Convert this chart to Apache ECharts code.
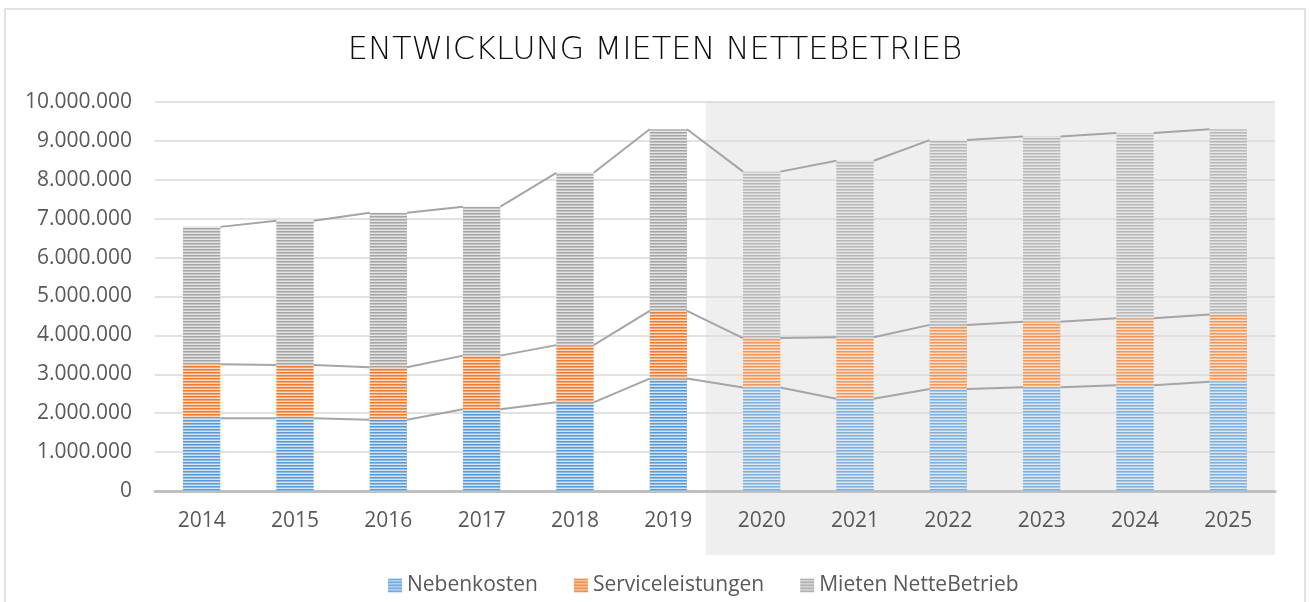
<!DOCTYPE html>
<html>
<head>
<meta charset="utf-8">
<script src="https://cdn.jsdelivr.net/npm/echarts@6/dist/echarts.min.js"></script>
<style>
  html, body { margin: 0; padding: 0; background: #fff; }
  #chart { width: 1310px; height: 602px; }
</style>
</head>
<body>
<div id="chart"></div>
<script>
// values
var years = ['2014', '2015', '2016', '2017', '2018', '2019', '2020', '2021', '2022', '2023', '2024', '2025'];
var nebenkosten = [1870000, 1870000, 1830000, 2100000, 2280000, 2890000, 2660000, 2370000, 2620000, 2670000, 2720000, 2810000];
var service = [1390000, 1370000, 1350000, 1380000, 1470000, 1740000, 1270000, 1580000, 1650000, 1680000, 1720000, 1730000];
var mieten = [3530000, 3710000, 3970000, 3830000, 4430000, 4670000, 4280000, 4540000, 4750000, 4760000, 4760000, 4760000];
var forecastFrom = 6; // 2020 onwards on grey background

var FONT = '"Open Sans", sans-serif';

// striped fill like the excel pattern
function stripes(dark, mid, light) {
  var c = document.createElement('canvas');
  c.width = 4; c.height = 3;
  var ctx = c.getContext('2d');
  ctx.fillStyle = dark; ctx.fillRect(0, 0, 4, 1);
  ctx.fillStyle = mid; ctx.fillRect(0, 1, 4, 1);
  ctx.fillStyle = light; ctx.fillRect(0, 2, 4, 1);
  return { image: c, repeat: 'repeat' };
}
var blueFill = stripes('#5b9bd5', '#8fbbe3', '#d3e4f4');
var orangeFill = stripes('#ed7d31', '#f3a671', '#fad9c2');
var greyFill = stripes('#a5a5a5', '#c2c2c2', '#e4e4e4');

function toItems(arr) {
  return arr.map(function (v, i) {
    return i >= forecastFrom ? { value: v, itemStyle: { opacity: 0.75 } } : v;
  });
}

// series lines between the stacked bars
var levels = [];
for (var i = 0; i < years.length; i++) {
  var b = nebenkosten[i], o = b + service[i];
  levels.push([b, o, o + mieten[i]]);
}
var connectors = [];
for (var j = 0; j < years.length - 1; j++) {
  connectors.push([j, j + 1].concat(levels[j], levels[j + 1]));
}

function fmt(v) {
  return String(v).replace(/\B(?=(\d{3})+(?!\d))/g, '.');
}

var chart = echarts.init(document.getElementById('chart'));

var option = {
  animation: false,
  textStyle: { fontFamily: FONT },
  title: {
    text: 'ENTWICKLUNG MIETEN NETTEBETRIEB',
    left: 'center',
    top: 30,
    textStyle: { fontFamily: '"DejaVu Sans", sans-serif', fontSize: 32, fontWeight: 200, color: '#0d0d0d' }
  },
  legend: {
    data: ['Nebenkosten', 'Serviceleistungen', 'Mieten NetteBetrieb'],
    left: 383,
    top: 570,
    itemWidth: 14,
    itemHeight: 14,
    itemGap: 36,
    icon: 'rect',
    textStyle: { fontFamily: FONT, fontSize: 21, color: '#595959' }
  },
  grid: { left: 155, right: 35, top: 102, bottom: 111 },
  xAxis: {
    type: 'category',
    data: years,
    axisLine: { lineStyle: { color: '#bfbfbf', width: 3 } },
    axisTick: { show: false },
    axisLabel: { fontFamily: FONT, fontSize: 21, color: '#595959', margin: 20 }
  },
  yAxis: {
    type: 'value',
    min: 0,
    max: 10000000,
    interval: 1000000,
    axisLine: { show: false },
    axisTick: { show: false },
    splitLine: { lineStyle: { color: '#d9d9d9', width: 1.5 } },
    axisLabel: { fontFamily: FONT, fontSize: 21, color: '#595959', margin: 23, formatter: fmt }
  },
  series: [
    {
      name: 'Nebenkosten', type: 'bar', stack: 'total', barWidth: '40%',
      itemStyle: { color: blueFill }, data: toItems(nebenkosten)
    },
    {
      name: 'Serviceleistungen', type: 'bar', stack: 'total', barWidth: '40%',
      itemStyle: { color: orangeFill }, data: toItems(service)
    },
    {
      name: 'Mieten NetteBetrieb', type: 'bar', stack: 'total', barWidth: '40%',
      itemStyle: { color: greyFill }, data: toItems(mieten)
    },
    {
      type: 'custom',
      name: 'Reihenlinien',
      silent: true,
      z: 3,
      encode: { x: [0, 1], y: [2, 3, 4, 5, 6, 7] },
      data: connectors,
      renderItem: function (params, api) {
        var half = api.size([1, 0])[0] * 0.2;
        var kids = [];
        for (var k = 0; k < 3; k++) {
          var p0 = api.coord([api.value(0), api.value(2 + k)]);
          var p1 = api.coord([api.value(1), api.value(5 + k)]);
          kids.push({
            type: 'line',
            shape: { x1: p0[0] + half, y1: p0[1], x2: p1[0] - half, y2: p1[1] },
            style: { stroke: '#a5a5a5', lineWidth: 2 }
          });
        }
        return { type: 'group', children: kids };
      }
    }
  ]
};
chart.setOption(option);

// grey forecast panel and chart frame, placed from the axes
var xa = chart.convertToPixel({ xAxisIndex: 0 }, forecastFrom);
var xb = chart.convertToPixel({ xAxisIndex: 0 }, forecastFrom - 1);
var band = xa - xb;
var xEnd = chart.convertToPixel({ xAxisIndex: 0 }, years.length - 1) + band / 2;
var yTop = chart.convertToPixel({ yAxisIndex: 0 }, 10000000);
var yZero = chart.convertToPixel({ yAxisIndex: 0 }, 0);
chart.setOption({
  graphic: [
    {
      type: 'rect', z: -1, silent: true,
      shape: { x: xa - band * 0.6, y: yTop, width: xEnd - (xa - band * 0.6), height: yZero - yTop + 64 },
      style: { fill: '#efefef' }
    },
    {
      type: 'rect', z: -1, silent: true,
      shape: { x: 5, y: 9, width: 1300, height: 600 },
      style: { fill: 'none', stroke: '#d9d9d9', lineWidth: 1.5 }
    }
  ]
});
</script>
</body>
</html>
